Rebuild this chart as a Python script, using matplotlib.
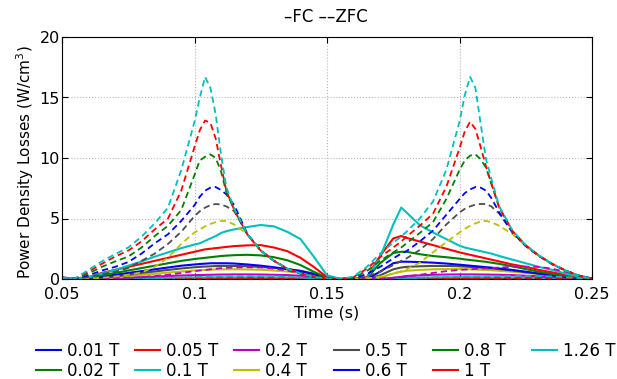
import matplotlib
matplotlib.use("Agg")
import matplotlib.pyplot as plt

# time samples (s)
t = [0.050, 0.055, 0.060, 0.065, 0.070, 0.075, 0.080, 0.085, 0.090, 0.095,
     0.100, 0.102, 0.104, 0.106, 0.108, 0.110, 0.112, 0.115, 0.120, 0.125,
     0.130, 0.135, 0.140, 0.145, 0.150, 0.155, 0.160, 0.165, 0.170, 0.175,
     0.178, 0.180, 0.185, 0.190, 0.195, 0.200, 0.202, 0.204, 0.206, 0.208,
     0.210, 0.212, 0.215, 0.220, 0.225, 0.230, 0.235, 0.240, 0.245, 0.250]

fields = ["0.01 T", "0.02 T", "0.05 T", "0.1 T", "0.2 T", "0.4 T",
          "0.5 T", "0.6 T", "0.8 T", "1 T", "1.26 T"]

# field-cooled losses (W/cm^3)
fc_001 = [0.01, 0.00, 0.00, 0.00, 0.00, 0.00, 0.00, 0.01, 0.01, 0.01,
          0.01, 0.01, 0.01, 0.01, 0.01, 0.01, 0.01, 0.01, 0.01, 0.01,
          0.01, 0.01, 0.01, 0.00, 0.00, 0.00, 0.00, 0.00, 0.00, 0.00,
          0.00, 0.01, 0.01, 0.01, 0.01, 0.01, 0.01, 0.01, 0.01, 0.01,
          0.01, 0.01, 0.01, 0.01, 0.01, 0.01, 0.00, 0.00, 0.00, 0.00]
fc_002 = [0.01, 0.00, 0.00, 0.00, 0.00, 0.01, 0.01, 0.01, 0.01, 0.01,
          0.01, 0.02, 0.02, 0.02, 0.02, 0.02, 0.02, 0.02, 0.02, 0.02,
          0.02, 0.01, 0.01, 0.01, 0.00, 0.00, 0.00, 0.00, 0.00, 0.00,
          0.01, 0.01, 0.01, 0.01, 0.02, 0.02, 0.02, 0.02, 0.02, 0.02,
          0.02, 0.02, 0.02, 0.02, 0.01, 0.01, 0.01, 0.01, 0.00, 0.00]
fc_005 = [0.01, 0.00, 0.00, 0.00, 0.01, 0.01, 0.02, 0.02, 0.03, 0.03,
          0.04, 0.04, 0.04, 0.04, 0.04, 0.05, 0.05, 0.05, 0.05, 0.05,
          0.04, 0.04, 0.03, 0.02, 0.01, 0.00, 0.00, 0.00, 0.00, 0.01,
          0.02, 0.03, 0.03, 0.04, 0.04, 0.04, 0.04, 0.04, 0.04, 0.04,
          0.04, 0.04, 0.04, 0.04, 0.03, 0.03, 0.02, 0.01, 0.01, 0.00]
fc_01 = [0.03, 0.01, 0.00, 0.01, 0.02, 0.04, 0.06, 0.08, 0.10, 0.11,
         0.12, 0.13, 0.13, 0.14, 0.14, 0.14, 0.15, 0.15, 0.15, 0.15,
         0.14, 0.13, 0.11, 0.07, 0.02, 0.00, 0.00, 0.00, 0.00, 0.04,
         0.07, 0.09, 0.11, 0.13, 0.14, 0.15, 0.15, 0.15, 0.15, 0.15,
         0.14, 0.14, 0.14, 0.13, 0.11, 0.09, 0.07, 0.04, 0.02, 0.00]
fc_02 = [0.05, 0.02, 0.00, 0.02, 0.05, 0.10, 0.15, 0.20, 0.25, 0.29,
         0.32, 0.33, 0.34, 0.35, 0.36, 0.37, 0.37, 0.38, 0.38, 0.37,
         0.35, 0.32, 0.27, 0.18, 0.05, 0.00, 0.00, 0.00, 0.00, 0.10,
         0.18, 0.25, 0.30, 0.35, 0.37, 0.38, 0.38, 0.38, 0.38, 0.37,
         0.37, 0.36, 0.35, 0.32, 0.27, 0.22, 0.16, 0.10, 0.04, 0.00]
fc_04 = [0.10, 0.05, 0.00, 0.05, 0.12, 0.22, 0.33, 0.43, 0.53, 0.62,
         0.70, 0.73, 0.75, 0.77, 0.79, 0.80, 0.80, 0.80, 0.79, 0.76,
         0.70, 0.62, 0.52, 0.35, 0.08, 0.00, 0.00, 0.00, 0.10, 0.45,
         0.60, 0.68, 0.75, 0.80, 0.82, 0.82, 0.81, 0.80, 0.78, 0.76,
         0.74, 0.72, 0.68, 0.60, 0.50, 0.40, 0.28, 0.17, 0.07, 0.01]
fc_05 = [0.10, 0.05, 0.02, 0.10, 0.20, 0.35, 0.50, 0.62, 0.75, 0.87,
         0.97, 1.00, 1.03, 1.05, 1.07, 1.08, 1.08, 1.08, 1.05, 1.00,
         0.92, 0.82, 0.68, 0.45, 0.10, 0.00, 0.00, 0.00, 0.30, 0.80,
         0.95, 1.00, 1.05, 1.08, 1.08, 1.05, 1.03, 1.00, 0.97, 0.94,
         0.90, 0.87, 0.82, 0.70, 0.57, 0.44, 0.30, 0.18, 0.07, 0.01]
fc_06 = [0.10, 0.05, 0.05, 0.20, 0.35, 0.50, 0.65, 0.80, 0.95, 1.10,
         1.20, 1.24, 1.27, 1.30, 1.30, 1.30, 1.30, 1.28, 1.20, 1.10,
         0.97, 0.82, 0.65, 0.40, 0.08, 0.00, 0.00, 0.00, 0.60, 1.30,
         1.43, 1.43, 1.40, 1.35, 1.28, 1.18, 1.14, 1.10, 1.06, 1.02,
         0.98, 0.94, 0.87, 0.75, 0.60, 0.45, 0.30, 0.17, 0.07, 0.01]
fc_08 = [0.10, 0.05, 0.10, 0.30, 0.50, 0.70, 0.90, 1.10, 1.30, 1.50,
         1.65, 1.70, 1.75, 1.80, 1.85, 1.90, 1.93, 1.97, 2.00, 1.95,
         1.80, 1.55, 1.15, 0.60, 0.10, 0.00, 0.00, 0.05, 1.30, 2.15,
         2.25, 2.25, 2.05, 1.90, 1.80, 1.68, 1.62, 1.57, 1.52, 1.47,
         1.42, 1.35, 1.25, 1.05, 0.82, 0.60, 0.42, 0.26, 0.10, 0.02]
fc_1 = [0.10, 0.05, 0.15, 0.50, 0.75, 1.00, 1.25, 1.50, 1.75, 2.00,
        2.25, 2.35, 2.45, 2.50, 2.55, 2.60, 2.65, 2.72, 2.78, 2.80,
        2.60, 2.30, 1.75, 1.00, 0.15, 0.00, 0.00, 0.15, 1.90, 3.35,
        3.55, 3.40, 3.10, 2.80, 2.50, 2.20, 2.10, 2.00, 1.90, 1.80,
        1.70, 1.60, 1.45, 1.20, 1.00, 0.75, 0.55, 0.35, 0.15, 0.03]
fc_126 = [0.10, 0.05, 0.15, 0.45, 0.75, 1.10, 1.45, 1.85, 2.20, 2.55,
          2.85, 2.95, 3.15, 3.35, 3.55, 3.80, 3.95, 4.10, 4.30, 4.46,
          4.35, 3.90, 3.30, 1.85, 0.30, 0.02, 0.00, 0.05, 1.80, 4.50,
          5.90, 5.50, 4.45, 3.85, 3.30, 2.75, 2.60, 2.50, 2.40, 2.30,
          2.20, 2.10, 1.90, 1.60, 1.30, 1.00, 0.75, 0.45, 0.20, 0.05]

# zero-field-cooled losses (W/cm^3)
zfc_001 = [0.01, 0.00, 0.00, 0.00, 0.00, 0.00, 0.00, 0.00, 0.01, 0.01,
           0.01, 0.01, 0.01, 0.01, 0.01, 0.01, 0.01, 0.01, 0.01, 0.01,
           0.01, 0.01, 0.01, 0.00, 0.00, 0.00, 0.00, 0.00, 0.00, 0.00,
           0.00, 0.00, 0.00, 0.01, 0.01, 0.01, 0.01, 0.01, 0.01, 0.01,
           0.01, 0.01, 0.01, 0.01, 0.01, 0.01, 0.01, 0.01, 0.00, 0.00]
zfc_002 = [0.01, 0.00, 0.00, 0.00, 0.00, 0.00, 0.01, 0.01, 0.01, 0.01,
           0.02, 0.02, 0.02, 0.02, 0.02, 0.02, 0.02, 0.02, 0.03, 0.03,
           0.02, 0.02, 0.01, 0.01, 0.00, 0.00, 0.00, 0.00, 0.00, 0.00,
           0.00, 0.01, 0.01, 0.01, 0.02, 0.02, 0.02, 0.02, 0.02, 0.02,
           0.02, 0.02, 0.02, 0.03, 0.03, 0.03, 0.02, 0.02, 0.01, 0.00]
zfc_005 = [0.01, 0.00, 0.00, 0.00, 0.01, 0.01, 0.02, 0.03, 0.03, 0.04,
           0.05, 0.05, 0.05, 0.05, 0.06, 0.06, 0.06, 0.06, 0.07, 0.07,
           0.06, 0.05, 0.04, 0.02, 0.01, 0.00, 0.00, 0.00, 0.00, 0.01,
           0.01, 0.02, 0.03, 0.04, 0.04, 0.05, 0.05, 0.05, 0.05, 0.06,
           0.06, 0.06, 0.06, 0.07, 0.07, 0.07, 0.06, 0.04, 0.02, 0.00]
zfc_01 = [0.02, 0.01, 0.00, 0.01, 0.02, 0.03, 0.05, 0.07, 0.10, 0.13,
          0.16, 0.17, 0.18, 0.19, 0.20, 0.21, 0.22, 0.23, 0.24, 0.24,
          0.22, 0.18, 0.12, 0.06, 0.02, 0.00, 0.00, 0.00, 0.01, 0.03,
          0.04, 0.05, 0.09, 0.13, 0.16, 0.19, 0.20, 0.20, 0.21, 0.22,
          0.22, 0.23, 0.24, 0.25, 0.25, 0.24, 0.21, 0.15, 0.08, 0.01]
zfc_02 = [0.05, 0.02, 0.00, 0.02, 0.05, 0.10, 0.15, 0.25, 0.35, 0.50,
          0.65, 0.70, 0.75, 0.80, 0.85, 0.90, 0.92, 0.95, 0.97, 0.95,
          0.85, 0.70, 0.45, 0.20, 0.05, 0.00, 0.00, 0.00, 0.03, 0.10,
          0.15, 0.20, 0.35, 0.50, 0.65, 0.75, 0.78, 0.80, 0.83, 0.86,
          0.88, 0.90, 0.95, 1.00, 1.02, 1.00, 0.85, 0.60, 0.30, 0.05]
zfc_04 = [0.10, 0.05, 0.03, 0.10, 0.20, 0.35, 0.55, 1.00, 1.75, 2.90,
          3.85, 4.10, 4.35, 4.55, 4.70, 4.80, 4.80, 4.50, 3.70, 2.35,
          1.50, 0.85, 0.46, 0.18, 0.03, 0.00, 0.00, 0.05, 0.20, 0.45,
          0.65, 0.80, 1.35, 2.20, 3.05, 3.85, 4.15, 4.40, 4.60, 4.75,
          4.80, 4.70, 4.40, 3.70, 2.75, 1.90, 1.22, 0.70, 0.28, 0.03]
zfc_05 = [0.10, 0.05, 0.15, 0.40, 0.60, 0.90, 1.50, 2.10, 2.90, 3.90,
          5.20, 5.60, 5.90, 6.10, 6.20, 6.15, 6.00, 5.60, 3.70, 2.35,
          1.50, 0.85, 0.46, 0.18, 0.03, 0.00, 0.00, 0.20, 0.60, 1.15,
          1.50, 1.70, 2.40, 3.30, 4.50, 5.50, 5.80, 6.00, 6.15, 6.20,
          6.20, 6.00, 5.40, 3.85, 2.72, 1.90, 1.22, 0.70, 0.28, 0.03]
zfc_06 = [0.10, 0.05, 0.30, 0.70, 1.00, 1.40, 2.10, 2.95, 3.70, 4.80,
          6.10, 6.80, 7.30, 7.55, 7.60, 7.35, 7.00, 6.10, 3.70, 2.35,
          1.50, 0.85, 0.46, 0.18, 0.03, 0.00, 0.05, 0.40, 1.00, 1.70,
          2.10, 2.30, 3.10, 4.00, 5.30, 6.60, 7.10, 7.40, 7.60, 7.55,
          7.30, 6.70, 5.50, 3.85, 2.72, 1.90, 1.22, 0.70, 0.28, 0.03]
zfc_08 = [0.10, 0.05, 0.45, 1.00, 1.45, 1.85, 2.60, 3.55, 4.40, 5.70,
          8.60, 9.80, 10.1, 10.3, 10.0, 8.90, 7.20, 5.70, 3.65, 2.35,
          1.50, 0.85, 0.46, 0.18, 0.03, 0.00, 0.10, 0.65, 1.50, 2.20,
          2.60, 2.95, 3.80, 4.70, 6.60, 9.00, 9.80, 10.2, 10.3, 9.90,
          9.20, 7.90, 5.90, 3.95, 2.78, 1.93, 1.25, 0.70, 0.28, 0.03]
zfc_1 = [0.10, 0.05, 0.60, 1.25, 1.85, 2.35, 3.10, 4.10, 5.00, 7.30,
         10.9, 12.3, 13.1, 12.9, 11.6, 9.40, 7.30, 5.70, 3.65, 2.35,
         1.50, 0.85, 0.46, 0.18, 0.03, 0.00, 0.15, 0.85, 1.80, 2.60,
         3.10, 3.50, 4.40, 5.40, 7.60, 10.8, 12.2, 13.0, 12.4, 10.9,
         9.30, 7.90, 5.90, 3.95, 2.78, 1.93, 1.25, 0.70, 0.28, 0.03]
zfc_126 = [0.10, 0.05, 0.75, 1.45, 2.05, 2.60, 3.50, 4.60, 5.90, 9.00,
           13.0, 15.0, 16.7, 15.8, 13.6, 10.3, 7.60, 5.80, 3.70, 2.35,
           1.50, 0.85, 0.46, 0.18, 0.03, 0.00, 0.20, 1.00, 2.10, 3.00,
           3.50, 3.90, 5.00, 6.40, 9.00, 13.0, 15.2, 16.7, 15.8, 12.8,
           9.90, 8.30, 6.00, 4.00, 2.80, 1.95, 1.25, 0.70, 0.28, 0.03]

fc = [fc_001, fc_002, fc_005, fc_01, fc_02, fc_04, fc_05, fc_06, fc_08, fc_1, fc_126]
zfc = [zfc_001, zfc_002, zfc_005, zfc_01, zfc_02, zfc_04, zfc_05, zfc_06, zfc_08, zfc_1, zfc_126]

blue = (0.0, 0.0, 1.0)
green = (0.0, 0.5, 0.0)
red = (1.0, 0.0, 0.0)
cyan = (0.0, 0.75, 0.75)
magenta = (0.75, 0.0, 0.75)
olive = (0.75, 0.75, 0.0)
dgray = (0.3, 0.3, 0.3)
colors = [blue, green, red, cyan, magenta, olive, dgray, blue, green, red, cyan]

plt.rcParams["font.family"] = ["DejaVu Sans"]

W, H = 617, 379
fig = plt.figure(figsize=(W / 100, H / 100), dpi=100)
ax = fig.add_axes([62 / W, 1 - 279 / H, 530 / W, 242 / H])

handles = []
for y, c, lab in zip(fc, colors, fields):
    h, = ax.plot(t, y, color=c, lw=1.5, solid_joinstyle="round", label=lab)
    handles.append(h)
for y, c in zip(zfc, colors):
    ax.plot(t, y, color=c, lw=1.3, linestyle=(0, (3.5, 2.2)))

ax.set_xlim(0.05, 0.25)
ax.set_ylim(0, 20)
ax.set_xticks([0.05, 0.1, 0.15, 0.2, 0.25])
ax.set_xticklabels(["0.05", "0.1", "0.15", "0.2", "0.25"])
ax.set_yticks([0, 5, 10, 15, 20])
ax.grid(True, linestyle=":", color="#b8b8b8", lw=0.8)
ax.set_axisbelow(True)
ax.tick_params(direction="in", length=4, width=0.8, top=True, right=True,
               labelsize=11.5)
ax.tick_params(axis="x", pad=6)
ax.tick_params(axis="y", pad=1.5)
for s in ax.spines.values():
    s.set_linewidth(0.8)

ax.set_xlabel("Time (s)", fontsize=11.5)
ax.xaxis.set_label_coords(0.5, -(306 - 279) / 242)
ax.set_ylabel("Power Density Losses (W/cm$^3$)", fontsize=11)
ax.yaxis.label.set_va("center")
ax.yaxis.set_label_coords((25 - 62) / 530, (279 - 162) / 242)

fig.text(326 / W, 1 - 17 / H, "\u2013FC \u2013\u2013ZFC", ha="center", va="center",
         fontsize=12)

# legend laid out as six fixed-width columns of two rows
col_x = [36, 135, 234, 334, 433, 532]
for j, x0 in enumerate(col_x):
    hs = handles[2 * j:2 * j + 2]
    fig.legend(hs, [h.get_label() for h in hs], loc="upper left",
               bbox_to_anchor=(x0 / W, 1 - 342 / H), frameon=False,
               fontsize=12, borderpad=0, borderaxespad=0, handlelength=1.5,
               handletextpad=0.36, labelspacing=0.1)

fig.savefig("out.png", dpi=100)
